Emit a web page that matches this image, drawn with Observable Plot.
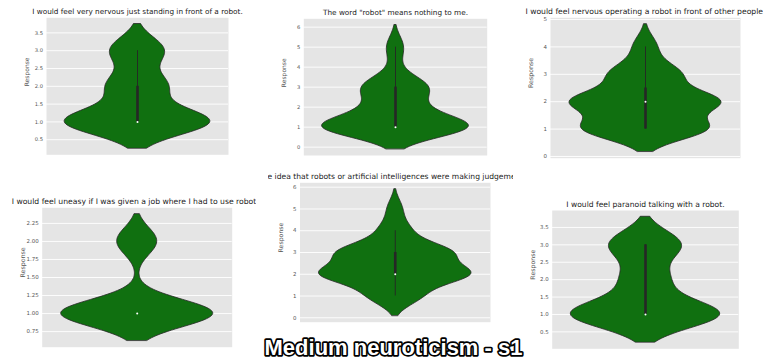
<!DOCTYPE html>
<html>
<head>
<meta charset="utf-8">
<script src="https://cdn.jsdelivr.net/npm/d3@7"></script>
<script src="https://cdn.jsdelivr.net/npm/@observablehq/plot@0.6"></script>
<style>
  body { margin: 0; background: #fff; }
  #fig { position: relative; width: 763px; height: 362px; overflow: hidden; background: #fff; font-family: "DejaVu Sans", sans-serif; }
  .cell { position: absolute; overflow: hidden; }
  .cell svg { display: block; }
  #headline { position: absolute; left: 0; top: 0; }
</style>
</head>
<body>
<div id="fig"></div>
<script>
// Survey statements (one violin per statement)
const questions = [
  "I would feel very nervous just standing in front of a robot.",
  "The word \"robot\" means nothing to me.",
  "I would feel nervous operating a robot in front of other people.",
  "I would feel uneasy if I was given a job where I had to use robots.",
  "I would hate the idea that robots or artificial intelligences were making judgements about things.",
  "I would feel paranoid talking with a robot."
];

// Answer levels and how many respondents gave each one
const levels = [1, 2, 3, 4, 5];
const countsStanding   = [27, 11, 10, 0, 0];
const countsWord       = [26, 7, 11, 1, 3];
const countsOperating  = [16, 19, 9, 3, 0];
const countsJob        = [38, 10, 0, 0, 0];
const countsJudgement  = [7, 20, 15, 4, 2];
const countsParanoid   = [27, 8, 13, 0, 0];

// Tick values for the response axes
const ticksHalf    = [0.5, 1, 1.5, 2, 2.5, 3, 3.5];
const ticksSix     = [0, 1, 2, 3, 4, 5, 6];
const ticksFive    = [0, 1, 2, 3, 4, 5];
const ticksQuarter = [0.75, 1, 1.25, 1.5, 1.75, 2, 2.25];

const axisLabel = "Response";
const headline = "Medium neuroticism - s1";

// Panel data, built from the arrays above
const panels = [
  {title: questions[0], counts: countsStanding,  ticks: ticksHalf,    fmt: d3.format(".1f")},
  {title: questions[1], counts: countsWord,      ticks: ticksSix,     fmt: d3.format("d")},
  {title: questions[2], counts: countsOperating, ticks: ticksFive,    fmt: d3.format("d")},
  {title: questions[3], counts: countsJob,       ticks: ticksQuarter, fmt: d3.format(".2f")},
  {title: questions[4], counts: countsJudgement, ticks: ticksSix,     fmt: d3.format("d")},
  {title: questions[5], counts: countsParanoid,  ticks: ticksHalf,    fmt: d3.format(".1f")}
];

// Where each small chart sits on the page, and its type scale
const cells = [
  {left: 0,   top: 0,   w: 256, h: 170, ml: 46,   mr: 28,   mt: 17.3, mb: 15.7, s: 1.0},
  {left: 256, top: 0,   w: 253, h: 170, ml: 47.3, mr: 22.3, mt: 18.3, mb: 15,   s: 1.0},
  {left: 509, top: 0,   w: 254, h: 170, ml: 41,   mr: 23,   mt: 17.3, mb: 12.3, s: 1.05},
  {left: 0,   top: 170, w: 256, h: 192, ml: 41.7, mr: 24.3, mt: 37.3, mb: 15.3, s: 1.05},
  {left: 268, top: 170, w: 245, h: 192, ml: 31.5, mr: 23,   mt: 12.3, mb: 40.3, s: 1.04},
  {left: 509, top: 170, w: 254, h: 192, ml: 42.7, mr: 24.7, mt: 40,   mb: 13.7, s: 1.04}
];

const FILL = "#107010";
const EDGE = "#262626";

// Gaussian KDE with Scott's bandwidth, cut at two bandwidths past the data
function violinProfile(values) {
  const n = values.length;
  const bw = d3.deviation(values) * Math.pow(n, -1 / 5);
  const lo = d3.min(values) - 2 * bw, hi = d3.max(values) + 2 * bw;
  const grid = d3.range(100).map(i => lo + (hi - lo) * i / 99);
  const dens = grid.map(y => d3.sum(values, v => Math.exp(-0.5 * ((y - v) / bw) ** 2)));
  const peak = d3.max(dens);
  return {lo, hi, profile: grid.map((y, i) => ({y, half: 0.4 * dens[i] / peak}))};
}

function boxStats(values) {
  const s = values.slice().sort(d3.ascending);
  const q1 = d3.quantileSorted(s, 0.25), med = d3.quantileSorted(s, 0.5), q3 = d3.quantileSorted(s, 0.75);
  const iqr = q3 - q1;
  const lowW = d3.min(s.filter(v => v >= q1 - 1.5 * iqr));
  const highW = d3.max(s.filter(v => v <= q3 + 1.5 * iqr));
  return {q1, med, q3, lowW, highW};
}

const fig = document.getElementById("fig");

panels.forEach((p, i) => {
  const c = cells[i];
  const values = levels.flatMap((lv, k) => Array(p.counts[k]).fill(lv));
  const {lo, hi, profile} = violinProfile(values);
  const b = boxStats(values);
  const pad = 0.05 * (hi - lo);

  const chart = Plot.plot({
    width: c.w,
    height: c.h,
    marginLeft: c.ml, marginRight: c.mr, marginTop: c.mt, marginBottom: c.mb,
    style: {background: "transparent", fontFamily: "DejaVu Sans"},
    x: {domain: [-0.5, 0.5], axis: null},
    y: {domain: [lo - pad, hi + pad]},
    marks: [
      Plot.frame({fill: "#e5e5e5", stroke: null}),
      Plot.gridY(p.ticks, {stroke: "white", strokeOpacity: 1, strokeWidth: 0.9}),
      Plot.axisY(p.ticks, {tickSize: 0, tickPadding: 3.5, fontSize: 5.2 * c.s, color: "#555", tickFormat: p.fmt, label: null}),
      Plot.areaX(profile, {y: "y", x1: d => -d.half, x2: d => d.half, fill: FILL, stroke: EDGE, strokeWidth: 0.8}),
      Plot.ruleX([{x: 0, y1: b.lowW, y2: b.highW}], {x: "x", y1: "y1", y2: "y2", stroke: EDGE, strokeWidth: 0.9}),
      Plot.ruleX([{x: 0, y1: b.q1, y2: b.q3}], {x: "x", y1: "y1", y2: "y2", stroke: EDGE, strokeWidth: 2.6}),
      Plot.dot([{x: 0, y: b.med}], {x: "x", y: "y", r: 1, fill: "white", stroke: null}),
      Plot.text([p.title], {frameAnchor: "top", dy: -3.5, lineAnchor: "bottom", fontSize: 7.3 * c.s, fill: "#222"}),
      Plot.text([axisLabel], {frameAnchor: "left", dx: -19.3, rotate: -90, fontSize: 6 * c.s, fill: "#555"})
    ]
  });

  const div = document.createElement("div");
  div.className = "cell";
  div.style.left = c.left + "px";
  div.style.top = c.top + "px";
  div.style.width = c.w + "px";
  div.style.height = c.h + "px";
  div.appendChild(chart);
  fig.appendChild(div);
});

// Figure headline across the bottom
const over = d3.create("svg")
  .attr("id", "headline")
  .attr("width", 763)
  .attr("height", 362);
over.append("text")
  .attr("x", 393.5)
  .attr("y", 354.5)
  .attr("text-anchor", "middle")
  .attr("font-family", "Liberation Sans, Arial, sans-serif")
  .attr("font-weight", "bold")
  .attr("font-size", 22)
  .attr("fill", "white")
  .attr("stroke", "black")
  .attr("stroke-width", 3.4)
  .attr("stroke-linejoin", "round")
  .attr("paint-order", "stroke")
  .text(headline);
fig.appendChild(over.node());
</script>
</body>
</html>
